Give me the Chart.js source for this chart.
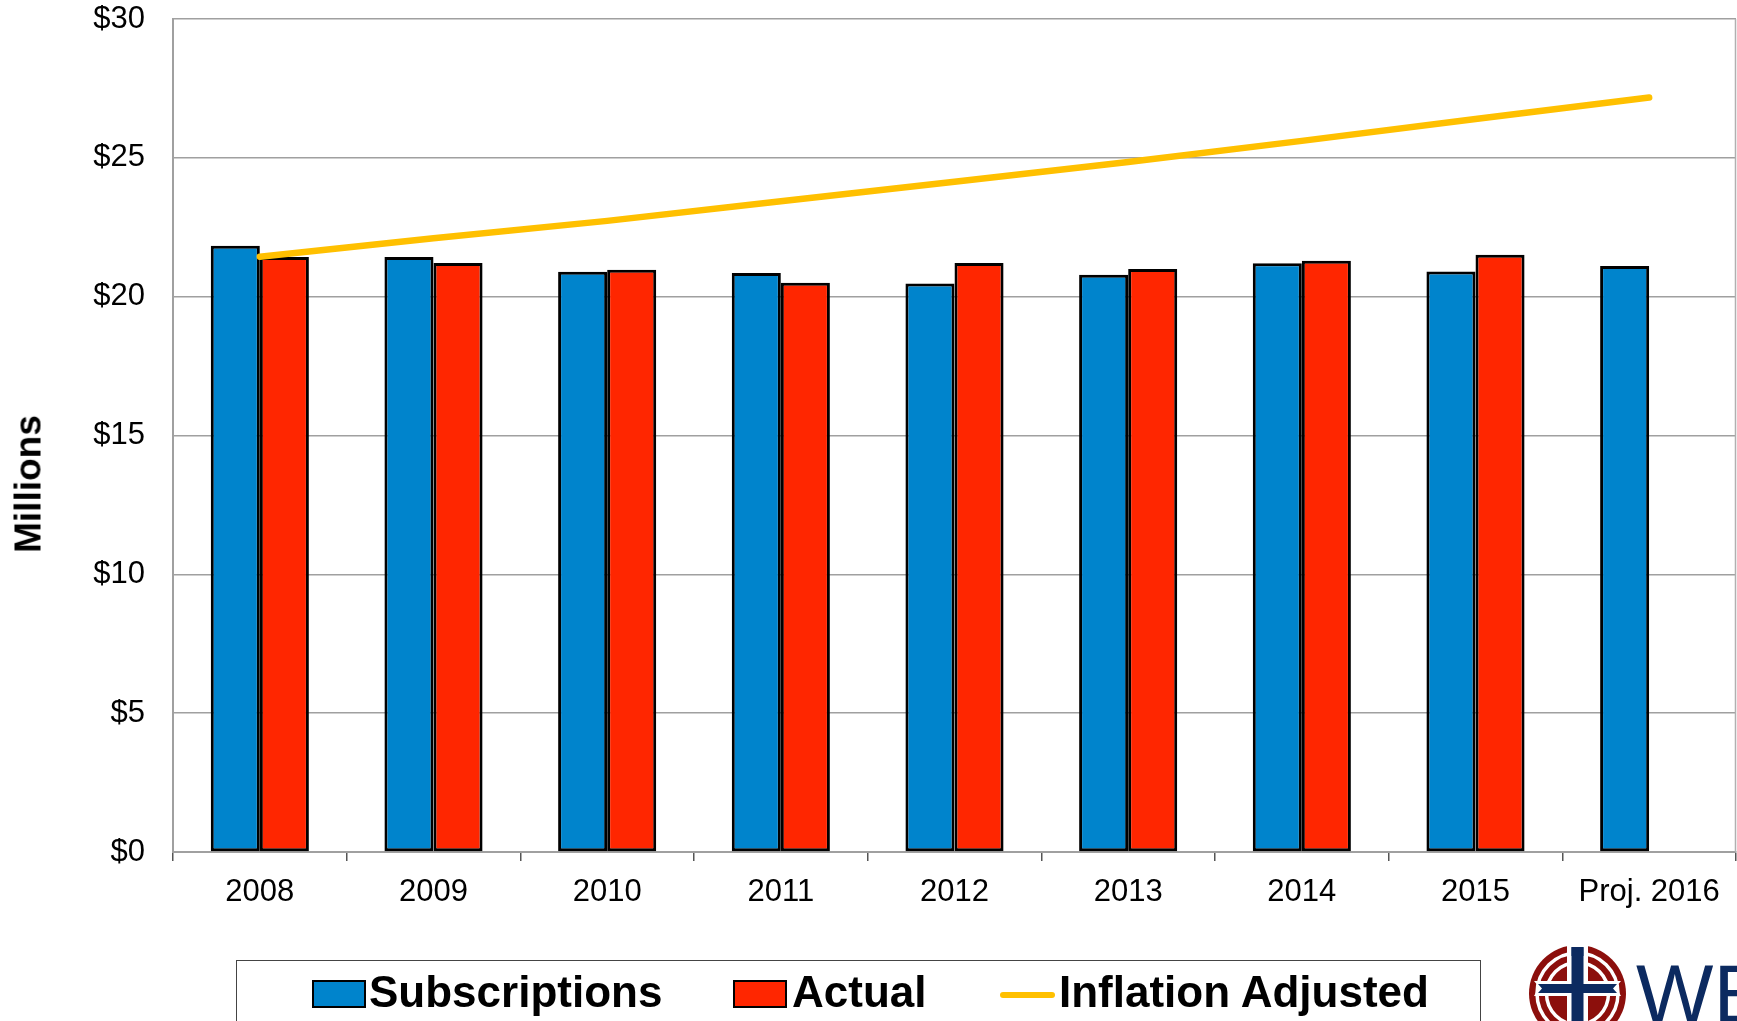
<!DOCTYPE html>
<html>
<head>
<meta charset="utf-8">
<script src="https://cdn.jsdelivr.net/npm/chart.js@4.4.1/dist/chart.umd.min.js"></script>
<style>
  html, body { margin: 0; padding: 0; background: #ffffff; overflow: hidden; }
  body { width: 1737px; height: 1021px; position: relative; font-family: "Liberation Sans", Arial, sans-serif; }
  #wrap { position: absolute; left: 0; top: 0; width: 1737px; height: 1021px; }
  .lg { position: absolute; }
  #legendBox { left: 236px; top: 960px; width: 1245px; height: 62px; border: 1.5px solid #444; box-sizing: border-box; }
  .sw { position: absolute; top: 980px; width: 54px; height: 28px; border: 2px solid #000; box-sizing: border-box; }
  .lt { position: absolute; top: 970px; font: bold 44px/1 "Liberation Sans", Arial, sans-serif; color: #000; white-space: nowrap; }
  #lineSw { position: absolute; left: 1000px; top: 992px; width: 55px; height: 6px; border-radius: 3px; background: #FFC000; }
  #logoText { position: absolute; left: 1636px; top: 953px; font: 82px/1 "Liberation Sans", Arial, sans-serif; color: #0c2a60; white-space: nowrap; }
  #logo { position: absolute; left: 1527px; top: 944px; }
  #yTitle { position: absolute; left: 28px; top: 484px; transform: translate(-50%, -50%) rotate(-90deg);
            font: bold 37px/1 "Liberation Sans", Arial, sans-serif; color: #000; white-space: nowrap; }
</style>
</head>
<body>
<div id="wrap"><canvas id="c" width="1737" height="1021"></canvas></div>
<div id="yTitle"></div>

<div id="legendBox" class="lg"></div>
<div class="sw" id="sw0" style="left:312px;"></div>
<div class="lt" id="lt0" style="left:369px;"></div>
<div class="sw" id="sw1" style="left:733px;"></div>
<div class="lt" id="lt1" style="left:792px;"></div>
<div id="lineSw"></div>
<div class="lt" id="lt2" style="left:1059px;"></div>

<svg id="logo" width="102" height="80" viewBox="0 0 102 80">
  <circle cx="50.5" cy="49.5" r="48.5" fill="#8c0f0c"/>
  <circle cx="50.5" cy="49.5" r="40.5" fill="none" stroke="#ffffff" stroke-width="3.5"/>
  <circle cx="50.5" cy="49.5" r="31" fill="none" stroke="#ffffff" stroke-width="3.5"/>
  <rect x="40" y="0" width="21" height="100" fill="#ffffff"/>
  <polygon points="7,37 94,37 89,43 94,52 7,52 12,43" fill="#ffffff"/>
  <rect x="44.5" y="3" width="12" height="100" fill="#0c2a60"/>
  <polygon points="44.5,3 50.5,8 56.5,3 56.5,12 44.5,12" fill="#0c2a60"/>
  <polygon points="11,40 90,40 86,44.5 90,49 11,49 15,44.5" fill="#0c2a60"/>
</svg>
<div id="logoText">WELS</div>

<script>
// ---- data ----
const categories = ['2008', '2009', '2010', '2011', '2012', '2013', '2014', '2015', 'Proj. 2016'];
const subscriptions = [21.83, 21.43, 20.90, 20.85, 20.47, 20.79, 21.20, 20.91, 21.10];
const actual = [21.43, 21.21, 20.97, 20.50, 21.21, 21.00, 21.29, 21.51, null];
const inflationAdjusted = [21.44, 22.10, 22.73, 23.44, 24.14, 24.85, 25.61, 26.40, 27.17];
const seriesNames = ['Subscriptions', 'Actual', 'Inflation Adjusted'];
const yAxisTitle = 'Millions';
const yMin = 0, yMax = 30, yStep = 5;

// ---- legend / title text ----
document.getElementById('lt0').textContent = seriesNames[0];
document.getElementById('lt1').textContent = seriesNames[1];
document.getElementById('lt2').textContent = seriesNames[2];
document.getElementById('yTitle').textContent = yAxisTitle;
const COLORS = { subs: '#0084CC', actual: '#FF2600', infl: '#FFC000' };
document.getElementById('sw0').style.background = COLORS.subs;
document.getElementById('sw1').style.background = COLORS.actual;

const borderPlugin = {
  id: 'plotBorder',
  beforeDatasetsDraw(chart) {
    const a = chart.chartArea, ctx = chart.ctx;
    ctx.save();
    ctx.strokeStyle = '#b0b0b0';
    ctx.lineWidth = 1.5;
    ctx.beginPath();
    ctx.moveTo(a.right - 0.5, a.top);
    ctx.lineTo(a.right - 0.5, a.bottom);
    ctx.stroke();
    ctx.restore();
  }
};

new Chart(document.getElementById('c'), {
  type: 'bar',
  data: {
    labels: categories,
    datasets: [
      {
        type: 'line', label: seriesNames[2], data: inflationAdjusted,
        borderColor: COLORS.infl, backgroundColor: COLORS.infl, borderWidth: 6.5,
        pointRadius: 0, tension: 0, borderCapStyle: 'round', borderJoinStyle: 'round',
        order: 0, fill: false
      },
      {
        label: seriesNames[0], data: subscriptions, backgroundColor: COLORS.subs,
        borderColor: '#000', borderWidth: 3, borderSkipped: false, order: 1
      },
      {
        label: seriesNames[1], data: actual, backgroundColor: COLORS.actual,
        borderColor: '#000', borderWidth: 3, borderSkipped: false, order: 1
      }
    ]
  },
  options: {
    responsive: false,
    animation: false,
    layout: { padding: { top: 19, right: 1, left: 0, bottom: 0 } },
    datasets: { bar: { categoryPercentage: 0.565, barPercentage: 1.0 } },
    plugins: { legend: { display: false }, tooltip: { enabled: false } },
    scales: {
      x: {
        offset: true,
        grid: { drawOnChartArea: false, drawTicks: true, tickLength: 9, color: '#555', tickColor: '#555', lineWidth: 1.5, offset: true },
        border: { color: '#a0a0a0', width: 2 },
        ticks: { font: { family: '"Liberation Sans", Arial', size: 31 }, color: '#000', padding: 13, maxRotation: 0, autoSkip: false },
        afterFit(scale) { scale.height = 169; }
      },
      y: {
        min: yMin, max: yMax,
        grid: { color: '#a0a0a0', lineWidth: 1.5, drawTicks: true, tickLength: 28, tickColor: 'rgba(0,0,0,0)' },
        border: { color: '#a0a0a0', width: 2 },
        ticks: {
          stepSize: yStep, padding: 0, color: '#000',
          font: { family: '"Liberation Sans", Arial', size: 31 },
          callback: v => '$' + v
        },
        title: { display: false },
        afterFit(scale) { scale.width = 173; }
      }
    }
  },
  plugins: [borderPlugin]
});
</script>
</body>
</html>
